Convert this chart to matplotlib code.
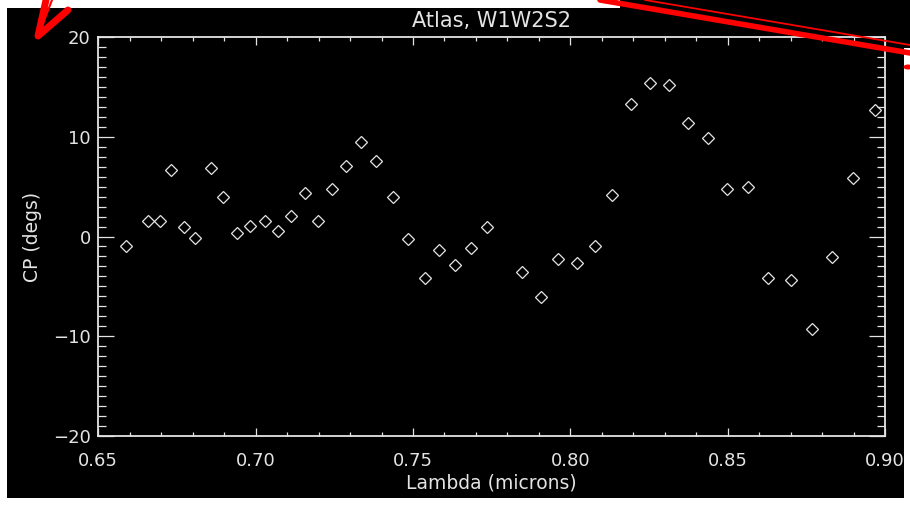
import matplotlib
matplotlib.use('Agg')
import matplotlib.pyplot as plt
from matplotlib.lines import Line2D
from matplotlib.patches import Rectangle, Circle
from matplotlib.ticker import MultipleLocator

# closure phase vs wavelength
lam = [0.6588, 0.6659, 0.6696, 0.6731, 0.6773, 0.6808, 0.6857, 0.6897, 0.6940,
       0.6982, 0.7030, 0.7072, 0.7113, 0.7156, 0.7197, 0.7244, 0.7286, 0.7334,
       0.7382, 0.7436, 0.7483, 0.7538, 0.7584, 0.7633, 0.7685, 0.7734, 0.7847,
       0.7907, 0.7961, 0.8020, 0.8079, 0.8133, 0.8193, 0.8253, 0.8313, 0.8374,
       0.8438, 0.8498, 0.8564, 0.8629, 0.8701, 0.8767, 0.8832, 0.8897, 0.8968]
cp = [-0.95, 1.56, 1.56, 6.61, 0.92, -0.18, 6.81, 3.94, 0.32,
      1.09, 1.56, 0.55, 2.06, 4.34, 1.53, 4.74, 7.02, 9.47,
      7.59, 3.97, -0.22, -4.20, -1.33, -2.83, -1.13, 0.98, -3.60,
      -6.05, -2.26, -2.66, -0.92, 4.14, 13.25, 15.33, 15.13, 11.38,
      9.83, 4.74, 4.94, -4.20, -4.37, -9.27, -2.09, 5.88, 12.71]

xticks = [0.65, 0.70, 0.75, 0.80, 0.85, 0.90]
xticklabels = ['0.65', '0.70', '0.75', '0.80', '0.85', '0.90']
yticks = [-20, -10, 0, 10, 20]
yticklabels = ['\u221220', '\u221210', '0', '10', '20']

W, H = 910, 505
fg = '#e4e4e4'

fig = plt.figure(figsize=(W/100, H/100), dpi=100, facecolor='black')

def px(x, y):
    return x / W, 1 - y / H

x0, y0 = px(98.3, 436.3)
x1, y1 = px(885, 36.7)
ax = fig.add_axes([x0, y0, x1 - x0, y1 - y0], facecolor='black')

ax.plot(lam, cp, linestyle='none', marker='D', markersize=6.6,
        markerfacecolor='none', markeredgecolor=fg, markeredgewidth=0.9)

ax.set_xlim(0.65, 0.90)
ax.set_ylim(-20, 20)
ax.set_xticks(xticks)
ax.set_xticklabels(xticklabels)
ax.set_yticks(yticks)
ax.set_yticklabels(yticklabels)
ax.xaxis.set_minor_locator(MultipleLocator(0.01))
ax.yaxis.set_minor_locator(MultipleLocator(1))

for s in ax.spines.values():
    s.set_color(fg)
    s.set_linewidth(1.3)

ax.tick_params(axis='both', which='both', direction='in', colors=fg,
               top=True, right=True, width=0.9, labelsize=13)
ax.tick_params(axis='x', which='major', length=5.8, pad=11)
ax.tick_params(axis='x', which='minor', length=2.9)
ax.tick_params(axis='y', which='major', length=11.5, pad=5.5)
ax.tick_params(axis='y', which='minor', length=5.8)

ax.set_title('Atlas, W1W2S2', color=fg, fontsize=15, pad=7)
ax.set_xlabel('Lambda (microns)', color=fg, fontsize=13.5)
ax.set_ylabel('CP (degs)', color=fg, fontsize=13.5)
ax.xaxis.set_label_coords(0.5, -0.093)
ax.yaxis.set_label_coords(-0.072, 0.5)

# white frame strips around the screen grab
for (rx, ry, rw, rh) in [(0, 0, 7, H), (0, 0, 620, 8), (0, 498, W, 7),
                         (904, 48, 6, H - 48)]:
    fx, fy = px(rx, ry + rh)
    fig.add_artist(Rectangle((fx, fy), rw / W, rh / H, transform=fig.transFigure,
                             facecolor='white', edgecolor='none', zorder=5))

# red pen marks drawn over the plot
def red_line(pts, lw):
    xs = [px(p[0], p[1])[0] for p in pts]
    ys = [px(p[0], p[1])[1] for p in pts]
    fig.add_artist(Line2D(xs, ys, transform=fig.transFigure, color='red',
                          linewidth=lw, solid_capstyle='round', zorder=6))

red_line([(46, 0), (38, 36), (68, 10)], 5)
red_line([(52, 0), (42, 26)], 1.5)
red_line([(600, 0), (910, 53)], 4)
red_line([(645, 0), (910, 45)], 1.3)
cx, cy = px(908, 67)
fig.add_artist(Circle((cx, cy), 4.5 / W, transform=fig.transFigure,
                      facecolor='red', edgecolor='none', zorder=6))

fig.savefig('out.png', dpi=100, facecolor='black')
